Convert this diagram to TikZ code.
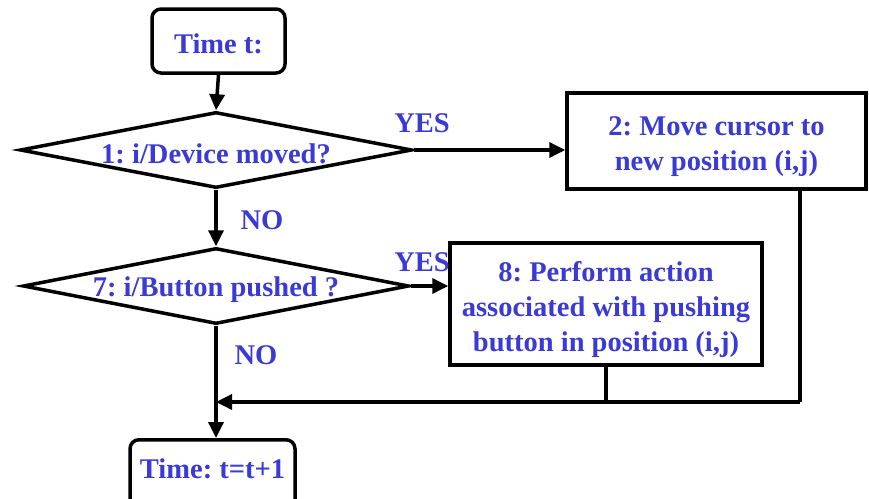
\documentclass[tikz,border=0pt]{standalone}
\usepackage{fontspec}
\setmainfont{Liberation Serif}
\usetikzlibrary{shapes.geometric,arrows.meta}
\definecolor{txtblue}{RGB}{58,58,215}
\frenchspacing
\begin{document}
\begin{tikzpicture}[x=1pt,y=-1pt,
  every node/.style={font=\fontsize{28.5}{35}\selectfont\bfseries, text=txtblue},
  box/.style={draw=black, line width=3.5pt, inner sep=0pt, fill=white},
  rbox/.style={box, rounded corners=9pt},
  dia/.style={draw=black, line width=3.5pt, diamond, inner sep=0pt, aspect=5},
  conn/.style={draw=black, line width=3.5pt},
  arr/.style={conn, -{Triangle[length=16pt,width=15pt]}},
  lbl/.style={inner sep=0pt, align=center}]
\clip (0,0) rectangle (869,498);
\fill[white] (0,0) rectangle (869,498);
\node[rbox, minimum width=133pt, minimum height=64pt] (t0) at (218.5,41) {};
\node[lbl] (t0t) at (218.5,44) {Time t:};
\node[dia, minimum width=392pt, minimum height=76pt] (d1) at (216,150) {};
\node[lbl] (d1t) at (216,154) {1: i/Device moved?};
\node[box, minimum width=299pt, minimum height=96pt] (b2) at (716.5,141) {};
\node[lbl] (b2t) at (716.5,147) {2: Move cursor to\\new position (i,j)};
\node[dia, minimum width=386pt, minimum height=76pt] (d2) at (216,286) {};
\node[lbl] (d2t) at (216,290) {7: i/Button pushed ?};
\node[box, minimum width=312pt, minimum height=122pt] (b8) at (606,304) {};
\node[lbl] (b8t) at (606,309) {8: Perform action\\associated with pushing\\button in position (i,j)};
\node[rbox, minimum width=165pt, minimum height=74pt, anchor=north] (t1) at (212.5,438) {};
\node[lbl] (t1t) at (212.5,469) {Time: t=t+1};
\node[lbl] (y1) at (422,123) {YES};
\node[lbl] (n1) at (262,220) {NO};
\node[lbl] (y2) at (422,262) {YES};
\node[lbl] (n2) at (256,355) {NO};
\coordinate (r1) at (800,402);
\coordinate (j) at (216,402);
\draw[arr] (t0.south) -- (d1.north);
\draw[arr] (d1.east) -- (d1.east -| b2.west);
\draw[arr] (d1.south) -- (d2.north);
\draw[arr] (d2.east) -- (d2.east -| b8.west);
\draw[arr] (d2.south) -- (d2.south |- t1.north);
\draw[conn] (b2.south -| r1) -- (r1);
\draw[conn] (b8.south) -- (b8.south |- r1);
\draw[arr] (r1) -- (j);
\end{tikzpicture}
\end{document}
